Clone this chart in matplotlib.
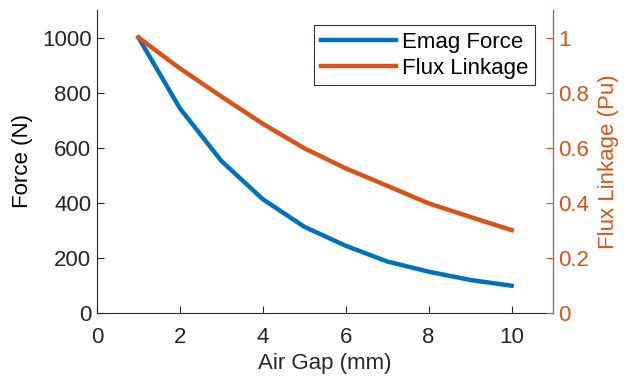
import matplotlib.pyplot as plt

plt.rcParams['font.family'] = ['Liberation Sans', 'DejaVu Sans']

air_gap = [1, 2, 3, 4, 5, 6, 7, 8, 9, 10]
emag_force = [1000, 743, 552, 413, 313, 244, 187, 150, 120, 99]
flux_linkage = [1.0, 0.888, 0.786, 0.687, 0.598, 0.525, 0.462, 0.398, 0.349, 0.301]

blue = '#0072BD'
orange = '#D95319'
axis_gray = '#262626'
fs = 16

fig = plt.figure(figsize=(6.32, 3.76), dpi=100)
ax = fig.add_axes([0.1535, 0.1676, 0.7215, 0.8058])
ax2 = ax.twinx()

l1, = ax.plot(air_gap, emag_force, color=blue, lw=3.2, label='Emag Force')
l2, = ax2.plot(air_gap, flux_linkage, color=orange, lw=3.2, label='Flux Linkage')

ax.set_xlim(0, 11)
ax.set_ylim(0, 1100)
ax2.set_ylim(0, 1.1)
ax.set_xticks([0, 2, 4, 6, 8, 10])
ax.set_yticks([0, 200, 400, 600, 800, 1000])
ax2.set_yticks([0, 0.2, 0.4, 0.6, 0.8, 1.0])
ax2.set_yticklabels(['0', '0.2', '0.4', '0.6', '0.8', '1'])

for a in (ax, ax2):
    a.spines['top'].set_visible(False)
ax.spines['left'].set_color(axis_gray)
ax.spines['bottom'].set_color(axis_gray)
ax2.spines['right'].set_color(orange)
ax2.spines['left'].set_visible(False)
ax2.spines['bottom'].set_visible(False)

ax.tick_params(direction='in', length=5, labelsize=fs, colors=axis_gray, pad=4)
ax.tick_params(axis='x', pad=10)
ax2.tick_params(direction='in', length=5, labelsize=fs, colors=orange, pad=4)

ax.set_xlabel('Air Gap (mm)', fontsize=fs, color=axis_gray, labelpad=4)
ax.set_ylabel('Force (N)', fontsize=fs, color='black', labelpad=6)
ax2.set_ylabel('Flux Linkage (Pu)', fontsize=fs, color=orange, labelpad=6)

leg = ax.legend(handles=[l1, l2], loc='upper right', bbox_to_anchor=(0.9605, 0.9505),
                fontsize=fs, frameon=True, fancybox=False, edgecolor='black',
                borderaxespad=0, handlelength=3.4, borderpad=0.3, labelspacing=0.22,
                handletextpad=0.25)
leg.get_frame().set_linewidth(0.8)

fig.savefig('out.png', dpi=100)
